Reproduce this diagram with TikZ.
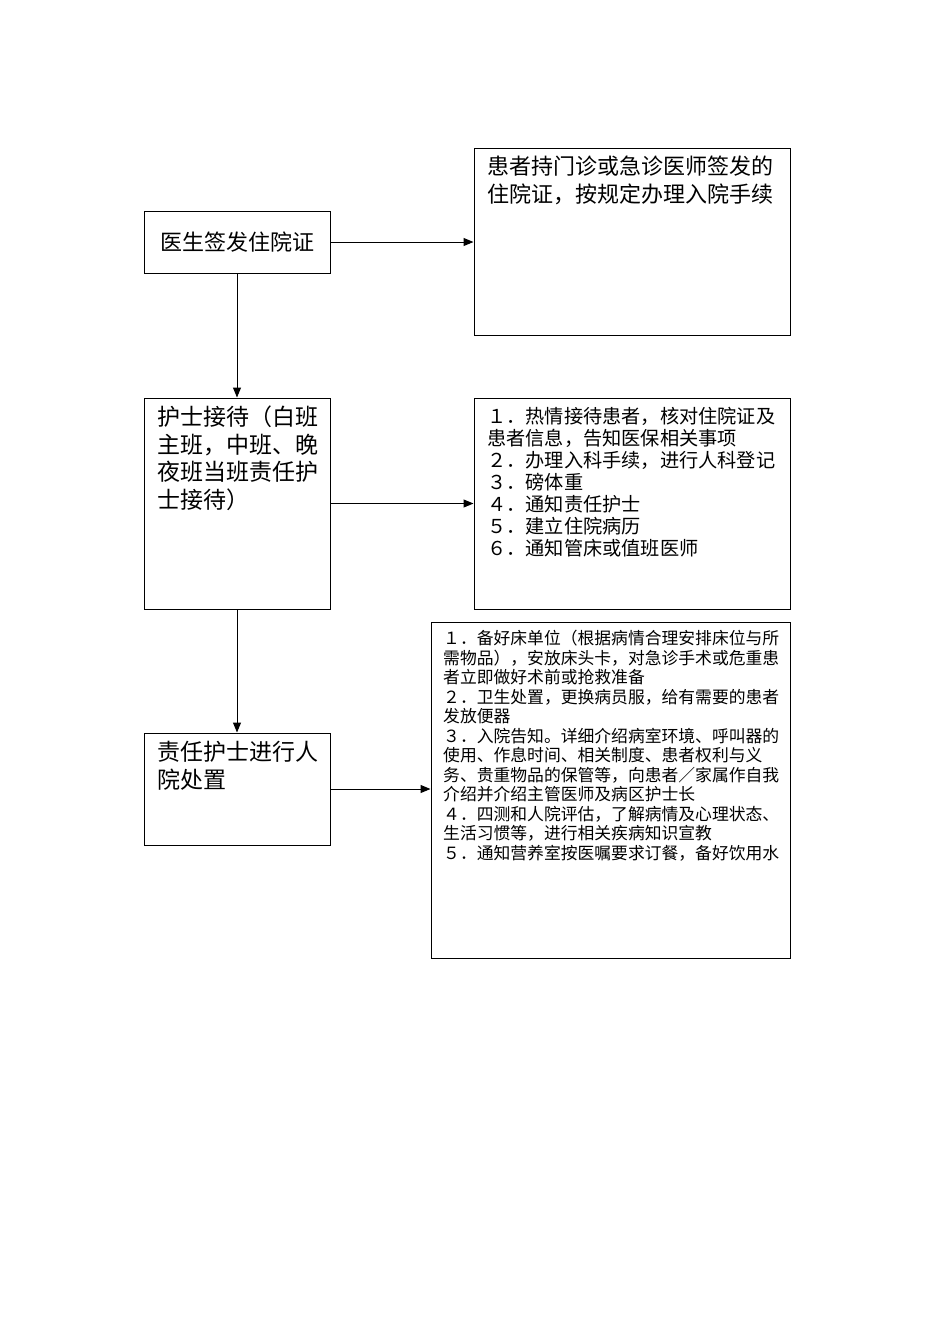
\documentclass[tikz,border=0pt]{standalone}
\usepackage{fontspec}
\newfontfamily\cjk{Noto Sans CJK SC}
\usetikzlibrary{arrows.meta,positioning,calc}
\tikzset{
  box/.style={draw,line width=1pt,inner sep=0pt},
  txt/.style={anchor=north west,align=left,inner sep=0pt},
  big/.style={font=\cjk\fontsize{22}{27.5}\selectfont},
  wide/.style={font=\cjk\fontsize{23}{27.5}\selectfont},
  mid/.style={font=\cjk\fontsize{19.2}{22}\selectfont},
  sml/.style={font=\cjk\fontsize{16.8}{19.5}\selectfont},
}
\begin{document}
\begin{tikzpicture}[x=1pt,y=-1pt]
\useasboundingbox (0,0) rectangle (950,1344);
% boxes
\node[box,minimum width=186pt,minimum height=62pt,big] (doc) at (237,242) {医生签发住院证};
\node[box,minimum width=316pt,minimum height=187pt] (pat) at (632,241.5) {};
\node[box,minimum width=186pt,minimum height=211pt] (nur) at (237,503.5) {};
\node[box,minimum width=316pt,minimum height=211pt] (rec) at (632,503.5) {};
\node[box,minimum width=186pt,minimum height=112pt] (res) at (237,789) {};
\node[box,minimum width=359pt,minimum height=336pt] (adm) at (610.5,790) {};
% texts
\node[txt,big] (patT) at (487,156) {患者持门诊或急诊医师签发的\\住院证，按规定办理入院手续};
\node[txt,wide] (nurT) at (157,406) {护士接待（白班\\主班，中班、晚\\夜班当班责任护\\士接待）};
\node[txt,mid] (recT) at (487,407) {１．热情接待患者，核对住院证及\\患者信息，告知医保相关事项\\２．办理入科手续，进行人科登记\\３．磅体重\\４．通知责任护士\\５．建立住院病历\\６．通知管床或值班医师};
\node[txt,wide] (resT) at (157,741) {责任护士进行人\\院处置};
\node[txt,sml] (admT) at (443,630) {１．备好床单位（根据病情合理安排床位与所\\需物品），安放床头卡，对急诊手术或危重患\\者立即做好术前或抢救准备\\２．卫生处置，更换病员服，给有需要的患者\\发放便器\\３．入院告知。详细介绍病室环境、呼叫器的\\使用、作息时间、相关制度、患者权利与义\\务、贵重物品的保管等，向患者／家属作自我\\介绍并介绍主管医师及病区护士长\\４．四测和人院评估，了解病情及心理状态、\\生活习惯等，进行相关疾病知识宣教\\５．通知营养室按医嘱要求订餐，备好饮用水};
% arrows
\path[-{Triangle[length=10pt,width=8pt]},line width=1pt]
(doc.east) edge (doc.east -| pat.west)
(doc) edge (nur)
(nur.east) edge (nur.east -| rec.west)
(nur) edge (res)
(res.east) edge (res.east -| adm.west);
\end{tikzpicture}
\end{document}
